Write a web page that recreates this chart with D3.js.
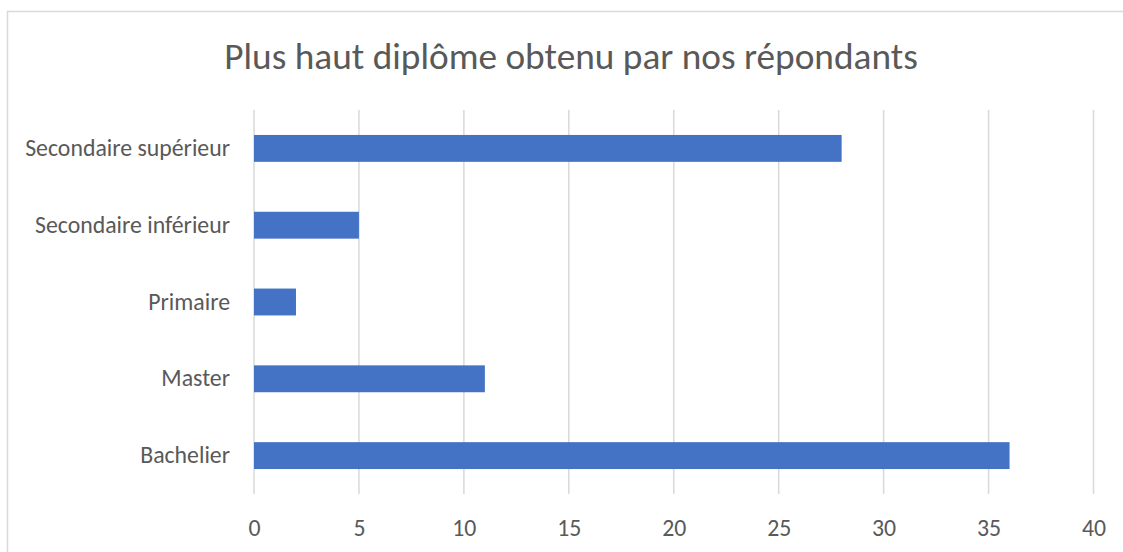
<!DOCTYPE html>
<html>
<head>
<meta charset="utf-8">
<script src="https://cdn.jsdelivr.net/npm/d3@7"></script>
<style>
  body { margin: 0; background: #fff; }
  svg text { font-family: Calibri, Carlito, "Open Sans", sans-serif; fill: #595959; }
</style>
</head>
<body>
<div id="chart"></div>
<script>
const categories = ["Secondaire supérieur", "Secondaire inférieur", "Primaire", "Master", "Bachelier"];
const counts = [28, 5, 2, 11, 36];
const xTicks = [0, 5, 10, 15, 20, 25, 30, 35, 40];
const title = "Plus haut diplôme obtenu par nos répondants";

const width = 1123, height = 552;
const margin = {top: 110, right: 30, bottom: 58, left: 254};

const svg = d3.select("#chart").append("svg")
    .attr("width", width)
    .attr("height", height);

// chart border (right and bottom edges fall outside the frame)
svg.append("rect")
    .attr("x", 7.5).attr("y", 11.5)
    .attr("width", 1130).attr("height", 560)
    .attr("fill", "none")
    .attr("stroke", "#d9d9d9")
    .attr("stroke-width", 1.5);

const x = d3.scaleLinear()
    .domain([0, 40])
    .range([margin.left, 1093.5]);

const y = d3.scaleBand()
    .domain(categories)
    .range([margin.top, height - margin.bottom])
    .paddingInner(0.65)
    .paddingOuter(0.325);

// gridlines
svg.append("g")
    .selectAll("line")
    .data(xTicks)
    .join("line")
    .attr("x1", d => x(d)).attr("x2", d => x(d))
    .attr("y1", margin.top).attr("y2", height - margin.bottom)
    .attr("stroke", "#d9d9d9")
    .attr("stroke-width", 1.5);

// bars
svg.append("g")
    .selectAll("rect")
    .data(categories)
    .join("rect")
    .attr("x", x(0))
    .attr("y", d => y(d))
    .attr("width", (d, i) => x(counts[i]) - x(0))
    .attr("height", y.bandwidth())
    .attr("fill", "#4472c4");

// x axis labels
const xAxis = d3.axisBottom(x).tickValues(xTicks).tickSize(0).tickPadding(25);
svg.append("g")
    .attr("transform", `translate(0, ${height - margin.bottom})`)
    .call(xAxis)
    .call(g => g.select(".domain").remove())
    .selectAll("text")
    .style("font-size", "23.8px");

// y axis labels
const yAxis = d3.axisLeft(y).tickSize(0).tickPadding(24);
svg.append("g")
    .attr("transform", `translate(${margin.left}, 0)`)
    .call(yAxis)
    .call(g => g.select(".domain").remove())
    .selectAll("text")
    .style("font-size", "23.8px");

svg.append("text")
    .attr("x", 571)
    .attr("y", 60)
    .attr("text-anchor", "middle")
    .attr("dominant-baseline", "middle")
    .style("font-size", "37.3px")
    .text(title);
</script>
</body>
</html>
